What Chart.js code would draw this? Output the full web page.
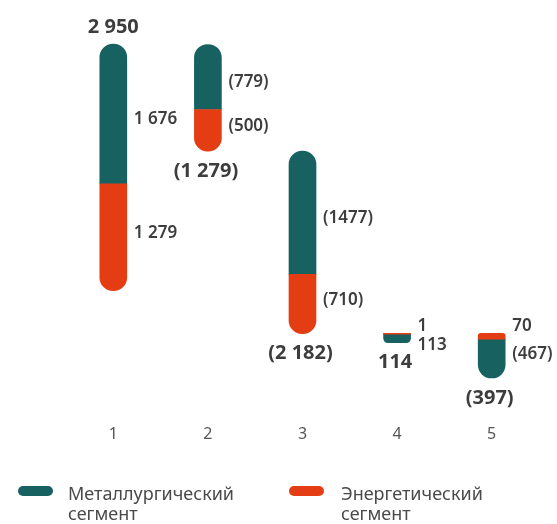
<!DOCTYPE html>
<html>
<head>
<meta charset="utf-8">
<script src="https://cdn.jsdelivr.net/npm/chart.js@4.4.1/dist/chart.umd.min.js"></script>
<style>
  body { margin: 0; background: #fff; font-family: 'Noto Sans', sans-serif; }
  #wrap { position: relative; width: 557px; height: 524px; }
  #box { position: absolute; left: 0; top: 0; width: 557px; height: 492px; }
  .leg { position: absolute; top: 483px; color: #4a4a4a; font-size: 18px; line-height: 20px; }
  .sw { position: absolute; top: 3px; width: 35px; height: 10px; border-radius: 5px; }
  .leg span { display: block; }
</style>
</head>
<body>
<div id="wrap">
  <div id="box"><canvas id="myChart"></canvas></div>
  <div class="leg" style="left:18px"><div class="sw" style="background:#176260"></div><span style="margin-left:50px">Металлургический<br>сегмент</span></div>
  <div class="leg" style="left:289px"><div class="sw" style="background:#e53d13"></div><span style="margin-left:52px">Энергетический<br>сегмент</span></div>
</div>
<script>
// du lieu
const categories = ['1', '2', '3', '4', '5'];
const metal = [1676, -779, -1477, 113, -467];
const energy = [1279, -500, -710, 1, 70];
const totals = [2950, -1279, -2182, 114, -397];
const metalText = ['1 676', '(779)', '(1477)', '113', '(467)'];
const energyText = ['1 279', '(500)', '(710)', '1', '70'];
const totalText = ['2 950', '(1 279)', '(2 182)', '114', '(397)'];
// which segment sits on top of each pill
const topSegment = ['metal', 'metal', 'metal', 'energy', 'energy'];

const teal = '#176260';
const orange = '#e53d13';

// floating ranges: bar 1 grows from zero, the rest hang down from the running level
let level = 0;
const metalRange = [];
const energyRange = [];
const growsUp = [];
categories.forEach((c, i) => {
  const m = Math.abs(metal[i]);
  const e = Math.abs(energy[i]);
  let top, bottom;
  if (i === 0) {
    bottom = level;
    top = level + m + e;
    growsUp.push(true);
  } else {
    top = level;
    bottom = level - m - e;
    growsUp.push(false);
  }
  // bars 4 and 5 both hang from the level left after bar 3
  if (i < 3) level += totals[i];
  if (topSegment[i] === 'metal') {
    metalRange.push([top - m, top]);
    energyRange.push([bottom, bottom + e]);
  } else {
    energyRange.push([top - e, top]);
    metalRange.push([bottom, bottom + m]);
  }
});

function pillEnds(seg) {
  return ctx => {
    const r = 14;
    if (topSegment[ctx.dataIndex] === seg) {
      return { topLeft: r, topRight: r, bottomLeft: 0, bottomRight: 0 };
    }
    return { topLeft: 0, topRight: 0, bottomLeft: r, bottomRight: r };
  };
}

const segmentLabels = {
  id: 'segmentLabels',
  afterDatasetsDraw(chart) {
    const c = chart.ctx;
    const eMeta = chart.getDatasetMeta(0);
    const mMeta = chart.getDatasetMeta(1);
    c.save();
    c.fillStyle = '#3d3d3d';
    c.textBaseline = 'middle';
    categories.forEach((cat, i) => {
      const segs = [
        { el: mMeta.data[i], text: metalText[i] },
        { el: eMeta.data[i], text: energyText[i] }
      ].map(s => ({
        text: s.text,
        top: Math.min(s.el.y, s.el.base),
        bottom: Math.max(s.el.y, s.el.base),
        x: s.el.x,
        w: s.el.width
      })).sort((a, b) => a.top - b.top);

      const up = segs[0];
      const low = segs[1];
      // labels lean a little towards the joint of the two segments
      let y1 = (up.top + up.bottom) / 2 + 5;
      if (up.bottom - up.top < 16) y1 = up.top - 7;
      let y2 = Math.max((low.top + low.bottom) / 2 - 4, y1 + 19);

      c.font = '600 17px "Noto Sans"';
      c.textAlign = 'left';
      const lx = up.x + up.w / 2 + 7;
      c.fillText(up.text, lx, y1);
      c.fillText(low.text, lx, y2);

      // total
      c.font = 'bold 20px "Noto Sans"';
      c.textAlign = 'center';
      if (growsUp[i]) {
        c.fillText(totalText[i], up.x, up.top - 17);
      } else {
        c.fillText(totalText[i], up.x - 2, low.bottom + 20);
      }
    });
    c.restore();
  }
};

const config = {
  type: 'bar',
  data: {
    labels: categories,
    datasets: [{
      label: 'Энергетический сегмент',
      data: energyRange,
      backgroundColor: orange,
      borderRadius: pillEnds('energy'),
      borderSkipped: false,
      grouped: false,
      barThickness: 27,
      minBarLength: 1,
      order: 0
    }, {
      label: 'Металлургический сегмент',
      data: metalRange,
      backgroundColor: teal,
      borderRadius: pillEnds('metal'),
      borderSkipped: false,
      grouped: false,
      barThickness: 27,
      order: 1
    }]
  },
  options: {
    responsive: true,
    maintainAspectRatio: false,
    animation: false,
    layout: {
      padding: { left: 66, right: 18, top: 0, bottom: 18 }
    },
    plugins: {
      legend: { display: false },
      tooltip: { enabled: false }
    },
    scales: {
      x: {
        grid: { display: false, drawTicks: false },
        border: { display: false },
        ticks: {
          color: '#555',
          font: { family: 'Noto Sans', size: 16 },
          padding: 30
        }
      },
      y: {
        display: false,
        min: -1249,
        max: 3483
      }
    }
  },
  plugins: [segmentLabels]
};

const ctx = document.getElementById('myChart').getContext('2d');
let myChart = new Chart(ctx, config);
</script>
</body>
</html>
